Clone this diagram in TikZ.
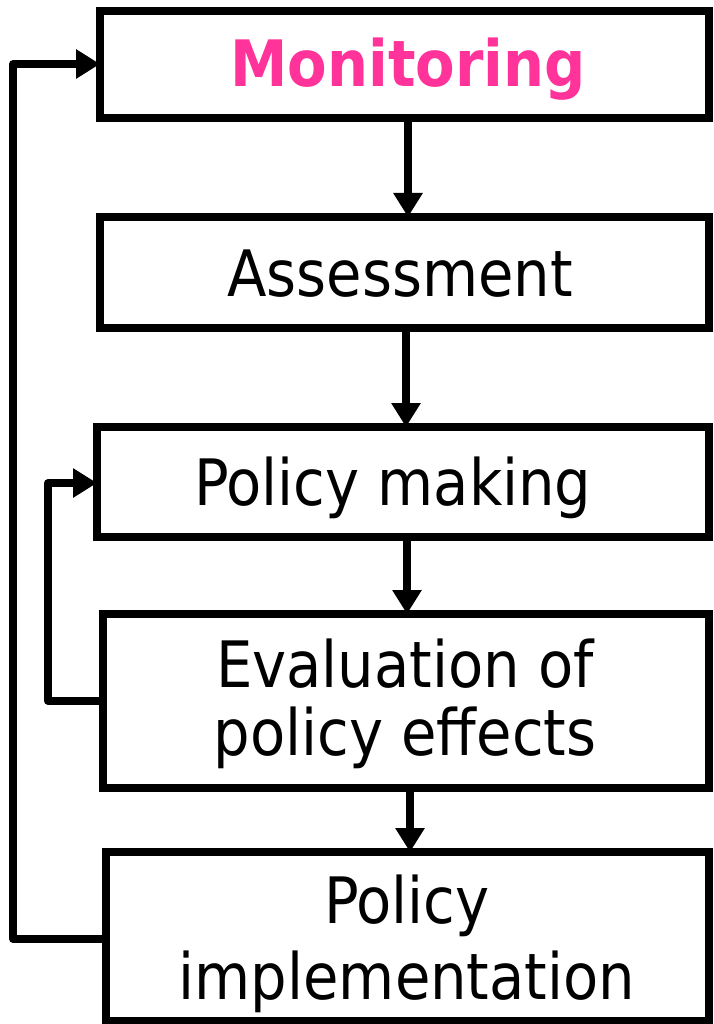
\documentclass[tikz,border=0pt]{standalone}
\usepackage{fontspec}
\setmainfont{DejaVu Sans Condensed}
\usetikzlibrary{arrows.meta}
\definecolor{pinkc}{HTML}{FF3399}
\tikzset{
  box/.style={draw=black, line width=7.5pt, fill=white, rectangle, inner sep=0pt, outer sep=0pt, anchor=north west},
  lbl/.style={font=\fontsize{64}{68}\selectfont, align=center, inner sep=0pt, text=black, anchor=base},
  arr/.style={line width=7.5pt, line join=round, -{Triangle[length=24pt,width=28pt]}}
}
\begin{document}
\begin{tikzpicture}[x=1pt,y=-1pt]
\useasboundingbox (0,0) rectangle (713,1024);
\node[box, minimum width=609pt, minimum height=107pt] (mon) at (100,11) {};
\node[box, minimum width=609pt, minimum height=111pt] (ass) at (100,217) {};
\node[box, minimum width=612pt, minimum height=110pt] (pm) at (97,427) {};
\node[box, minimum width=606pt, minimum height=174pt] (ev) at (103,614) {};
\node[box, minimum width=603pt, minimum height=169pt] (imp) at (106,852) {};
\node[lbl, font=\fontsize{64}{68}\selectfont\bfseries, text=pinkc] (tmon) at (408,87) {Monitoring};
\node[lbl] (tass) at (400,296) {Assessment};
\node[lbl] (tpm) at (393,505) {Policy making};
\node[lbl] (tev) at (405,755) {Evaluation of\\policy effects};
\node[lbl, font=\fontsize{64}{76}\selectfont] (timp) at (407,999) {Policy\\implementation};
\coordinate (xa) at (408,0);
\coordinate (xb) at (406,0);
\coordinate (xc) at (407,0);
\coordinate (xd) at (410,0);
\coordinate (xl) at (13,0);
\coordinate (xm) at (48,0);
\coordinate (y1) at (0,64);
\coordinate (y3) at (0,483);
\coordinate (y4) at (0,701);
\coordinate (y5) at (0,939);
\draw[arr] (mon.south -| xa) -- (ass.north -| xa);
\draw[arr] (ass.south -| xb) -- (pm.north -| xb);
\draw[arr] (pm.south -| xc) -- (ev.north -| xc);
\draw[arr] (ev.south -| xd) -- (imp.north -| xd);
\draw[arr] (ev.west |- y4) -- (xm |- y4) -- (xm |- y3) -- (pm.west |- y3);
\draw[arr] (imp.west |- y5) -- (xl |- y5) -- (xl |- y1) -- (mon.west |- y1);
\end{tikzpicture}
\end{document}
